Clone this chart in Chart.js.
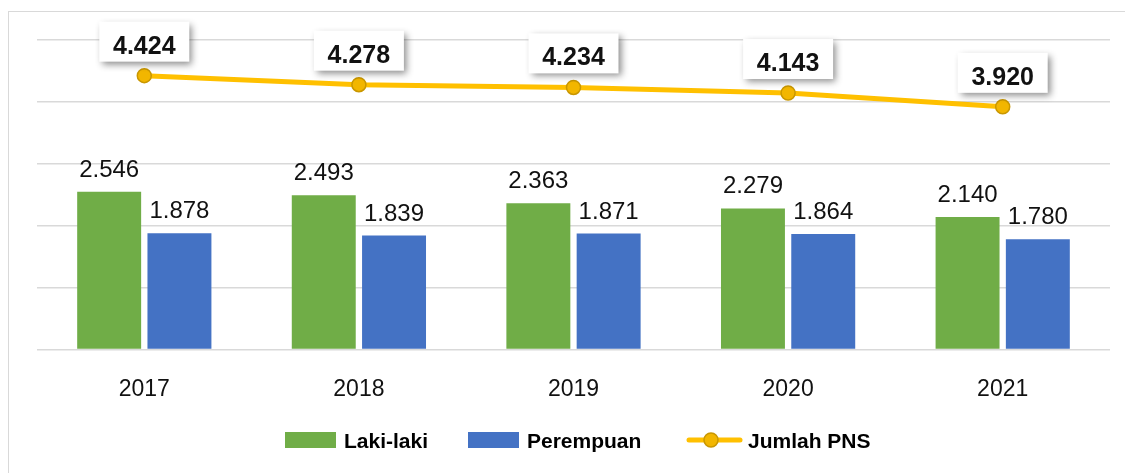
<!DOCTYPE html>
<html>
<head>
<meta charset="utf-8">
<script src="https://cdn.jsdelivr.net/npm/chart.js@4/dist/chart.umd.min.js"></script>
<style>
  html, body { margin: 0; padding: 0; background: #fff; }
  #wrap { position: relative; width: 1125px; height: 473px; overflow: hidden; }
  #frame { position: absolute; left: 8px; top: 11px; width: 1125px; height: 470px; border-left: 1px solid #d9d9d9; border-top: 1px solid #d9d9d9; pointer-events: none; }
</style>
</head>
<body>
<div id="wrap">
  <canvas id="chart" width="1125" height="473"></canvas>
  <div id="frame"></div>
</div>
<script>
// data
const years = ['2017', '2018', '2019', '2020', '2021'];
const lakiLaki = [2546, 2493, 2363, 2279, 2140];
const perempuan = [1878, 1839, 1871, 1864, 1780];
const jumlahPns = [4424, 4278, 4234, 4143, 3920];
const yTicks = [0, 1000, 2000, 3000, 4000, 5000];

const GREEN = '#70AD47';
const BLUE = '#4472C4';
const GOLD = '#FFC000';

// 4424 -> "4.424"
function fmt(v) {
    return String(v).replace(/\B(?=(\d{3})+(?!\d))/g, '.');
}

// value labels: plain text above the bars, white boxes with shadow above the line points
const labelPlugin = {
    id: 'valueLabels',
    afterDatasetsDraw(chart) {
        const ctx = chart.ctx;
        chart.data.datasets.forEach((ds, i) => {
            const meta = chart.getDatasetMeta(i);
            meta.data.forEach((el, j) => {
                const txt = fmt(ds.data[j]);
                ctx.save();
                if (ds.type === 'line') {
                    ctx.font = 'bold 25px "Liberation Sans", Arial, sans-serif';
                    const w = 90, h = 40;
                    const bx = el.x - w / 2, by = el.y - 14 - h;
                    ctx.shadowColor = 'rgba(0,0,0,0.45)';
                    ctx.shadowBlur = 7;
                    ctx.shadowOffsetX = 3;
                    ctx.shadowOffsetY = 3;
                    ctx.fillStyle = '#fff';
                    ctx.fillRect(bx, by, w, h);
                    ctx.shadowColor = 'transparent';
                    ctx.fillStyle = '#111';
                    ctx.textAlign = 'center';
                    ctx.textBaseline = 'alphabetic';
                    ctx.fillText(txt, el.x, by + 32);
                } else {
                    ctx.font = '24px "Liberation Sans", Arial, sans-serif';
                    ctx.fillStyle = '#111';
                    ctx.textAlign = 'center';
                    ctx.textBaseline = 'alphabetic';
                    ctx.fillText(txt, el.x, el.y - 15);
                }
                ctx.restore();
            });
        });
    }
};

// legend drawn by hand so the line entry can show line + marker
const legendPlugin = {
    id: 'customLegend',
    afterDraw(chart) {
        const ctx = chart.ctx;
        const y = 440;
        ctx.save();
        ctx.font = 'bold 21px "Liberation Sans", Arial, sans-serif';
        ctx.textBaseline = 'middle';
        ctx.fillStyle = GREEN;
        ctx.fillRect(285, 432, 51, 16);
        ctx.fillStyle = BLUE;
        ctx.fillRect(468, 432, 51, 16);
        ctx.strokeStyle = GOLD;
        ctx.lineWidth = 5;
        ctx.lineCap = 'round';
        ctx.beginPath();
        ctx.moveTo(689, y);
        ctx.lineTo(740, y);
        ctx.stroke();
        ctx.fillStyle = '#F2B600';
        ctx.strokeStyle = '#C99700';
        ctx.lineWidth = 1.5;
        ctx.beginPath();
        ctx.arc(711, y, 7, 0, Math.PI * 2);
        ctx.fill();
        ctx.stroke();
        ctx.fillStyle = '#000';
        ctx.fillText('Laki-laki', 344, y + 2);
        ctx.fillText('Perempuan', 527, y + 2);
        ctx.fillText('Jumlah PNS', 748, y + 2);
        ctx.restore();
    }
};

new Chart(document.getElementById('chart'), {
    type: 'bar',
    data: {
        labels: years,
        datasets: [
            {
                type: 'line',
                label: 'Jumlah PNS',
                data: jumlahPns,
                order: 0,
                borderColor: GOLD,
                borderWidth: 5,
                pointRadius: 7,
                pointBackgroundColor: '#F2B600',
                pointBorderColor: '#C99700',
                pointBorderWidth: 1.5,
                tension: 0
            },
            {
                label: 'Laki-laki',
                data: lakiLaki,
                order: 1,
                backgroundColor: GREEN,
                categoryPercentage: 0.655,
                barPercentage: 0.91
            },
            {
                label: 'Perempuan',
                data: perempuan,
                order: 2,
                backgroundColor: BLUE,
                categoryPercentage: 0.655,
                barPercentage: 0.91
            }
        ]
    },
    options: {
        responsive: false,
        animation: false,
        layout: { padding: { left: 37, right: 15, top: 40, bottom: 52 } },
        plugins: {
            legend: { display: false },
            tooltip: { enabled: false }
        },
        scales: {
            x: {
                grid: { display: false },
                border: { display: false },
                ticks: {
                    color: '#111',
                    padding: 18,
                    font: { family: '"Liberation Sans", Arial, sans-serif', size: 23 }
                }
            },
            y: {
                min: yTicks[0],
                max: yTicks[yTicks.length - 1],
                afterBuildTicks: axis => { axis.ticks = yTicks.map(v => ({ value: v })); },
                grid: { color: '#d9d9d9', lineWidth: 1.5, drawTicks: false },
                border: { display: false },
                ticks: { display: false }
            }
        }
    },
    plugins: [labelPlugin, legendPlugin]
});
</script>
</body>
</html>
